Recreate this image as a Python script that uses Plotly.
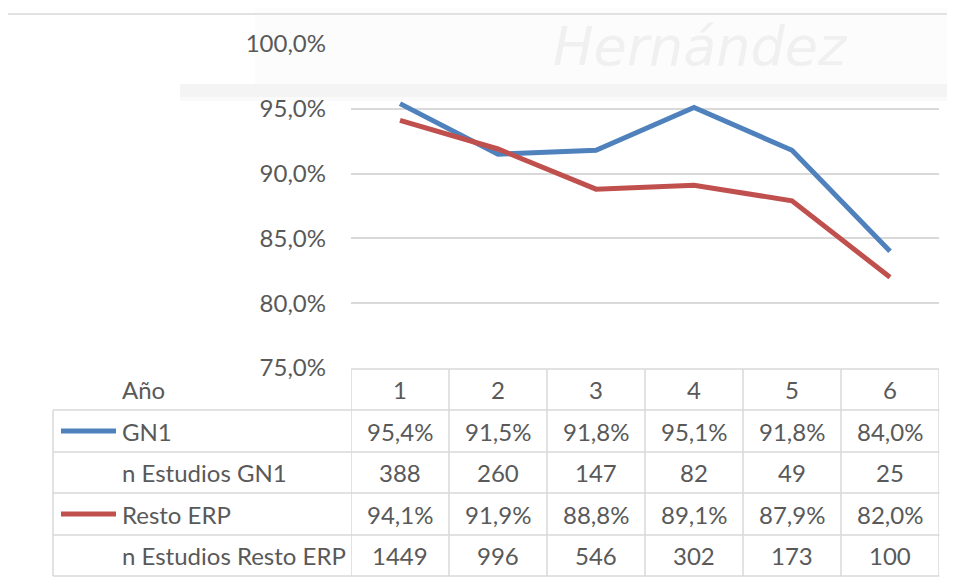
import plotly.graph_objects as go

OFF = 8                      # page body margin
W, H = 955 - OFF, 580 - OFF  # figure size so the page fits the window

# ---- data ----
years = [1, 2, 3, 4, 5, 6]
gn1 = [0.954, 0.915, 0.918, 0.951, 0.918, 0.840]
resto = [0.941, 0.919, 0.888, 0.891, 0.879, 0.820]
n_gn1 = [388, 260, 147, 82, 49, 25]
n_resto = [1449, 996, 546, 302, 173, 100]
row_labels = ["GN1", "n Estudios GN1", "Resto ERP", "n Estudios Resto ERP"]
header_label = "Año"
y_ticks = [0.75, 0.80, 0.85, 0.90, 0.95, 1.00]

BLUE = "#4F81BD"
RED = "#C0504D"
TXT = "#595959"
GRID = "#D9D9D9"
FONT = "Lato"
FS = 24


def px(x):
    return (x - OFF) / W


def py(y):
    return 1 - (y - OFF) / H


fig = go.Figure()
fig.add_trace(go.Scatter(x=years, y=gn1, mode="lines", name="GN1",
                         line=dict(color=BLUE, width=5), hoverinfo="skip"))
fig.add_trace(go.Scatter(x=years, y=resto, mode="lines", name="Resto ERP",
                         line=dict(color=RED, width=5), hoverinfo="skip"))

shapes = []
annotations = []

# watermark (scan background)
shapes.append(dict(type="rect", xref="paper", yref="paper",
                   x0=px(255), x1=px(960), y0=py(84), y1=py(0),
                   fillcolor="#FCFCFC", line=dict(width=0), layer="below"))
shapes.append(dict(type="rect", xref="paper", yref="paper",
                   x0=px(180), x1=px(960), y0=py(97), y1=py(84),
                   fillcolor="#F4F4F4", line=dict(width=0), layer="below"))
shapes.append(dict(type="rect", xref="paper", yref="paper",
                   x0=px(180), x1=px(960), y0=py(101), y1=py(97),
                   fillcolor="#FAFAFA", line=dict(width=0), layer="below"))
annotations.append(dict(text="Hernández", xref="paper", yref="paper",
                        x=px(700), y=py(46), showarrow=False,
                        xanchor="center", yanchor="middle",
                        font=dict(family="Liberation Sans Narrow, DejaVu Sans", size=54,
                                  color="#F0F0F0", style="italic")))

# outer chart border
shapes.append(dict(type="rect", xref="paper", yref="paper",
                   x0=px(7), x1=px(965), y0=py(600), y1=py(14),
                   line=dict(color=GRID, width=1.5), layer="below"))

# table geometry (reference pixels from top)
row_edges = [369, 410, 452, 493, 535, 576]
table_left = 53
label_x = 120
LW = 1.5

# header top line (data columns only)
shapes.append(dict(type="line", xref="x", yref="paper", x0=0.5, x1=6.5,
                   y0=py(row_edges[0]), y1=py(row_edges[0]), line=dict(color=GRID, width=LW)))
for ye in row_edges[1:]:
    shapes.append(dict(type="line", xref="paper", yref="paper", x0=px(table_left), x1=px(939.5),
                       y0=py(ye), y1=py(ye), line=dict(color=GRID, width=LW)))
for k in range(len(years) + 1):
    xv = 0.5 + k
    shapes.append(dict(type="line", xref="x", yref="paper", x0=xv, x1=xv,
                       y0=py(row_edges[-1]), y1=py(row_edges[0]), line=dict(color=GRID, width=LW)))
shapes.append(dict(type="line", xref="paper", yref="paper", x0=px(table_left), x1=px(table_left),
                   y0=py(row_edges[-1]), y1=py(row_edges[1]), line=dict(color=GRID, width=LW)))


def mid(i):
    return py((row_edges[i] + row_edges[i + 1]) / 2)


def fmt_pct(v):
    return f"{v*100:.1f}%".replace(".", ",")


def txt(text, x, y, xref, xanchor):
    return dict(text=text, xref=xref, yref="paper", x=x, y=y,
                xanchor=xanchor, yanchor="middle", showarrow=False,
                font=dict(family=FONT, size=FS, color=TXT))


annotations.append(txt(header_label, px(label_x), mid(0), "paper", "left"))
for yv in years:
    annotations.append(txt(str(yv), yv, mid(0), "x", "center"))

rows = [[fmt_pct(v) for v in gn1], [str(v) for v in n_gn1],
        [fmt_pct(v) for v in resto], [str(v) for v in n_resto]]
for r, (lab, vals) in enumerate(zip(row_labels, rows)):
    annotations.append(txt(lab, px(label_x), mid(r + 1), "paper", "left"))
    for j, v in enumerate(vals):
        annotations.append(txt(v, years[j], mid(r + 1), "x", "center"))

# legend keys
for r, col in [(1, BLUE), (3, RED)]:
    shapes.append(dict(type="line", xref="paper", yref="paper", x0=px(61), x1=px(116),
                       y0=mid(r), y1=mid(r), line=dict(color=col, width=5)))

fig.update_layout(
    width=W, height=H,
    margin=dict(l=0, r=0, t=0, b=0, autoexpand=False),
    paper_bgcolor="white", plot_bgcolor="rgba(0,0,0,0)",
    separators=",.",
    showlegend=False,
    shapes=shapes, annotations=annotations,
    xaxis=dict(domain=[px(351), px(939)], range=[0.5, 6.5], showticklabels=False,
               showgrid=False, zeroline=False, showline=False, fixedrange=True,
               automargin=False),
    yaxis=dict(domain=[py(368), py(44)], range=[0.75, 1.0], tickvals=y_ticks,
               tickformat=".1%", showgrid=True, gridcolor=GRID, gridwidth=1.5,
               zeroline=False, showline=False, ticks="", ticklabelstandoff=24,
               tickfont=dict(family=FONT, size=FS, color=TXT), fixedrange=True,
               automargin=False),
)

fig.write_html("out.html")
